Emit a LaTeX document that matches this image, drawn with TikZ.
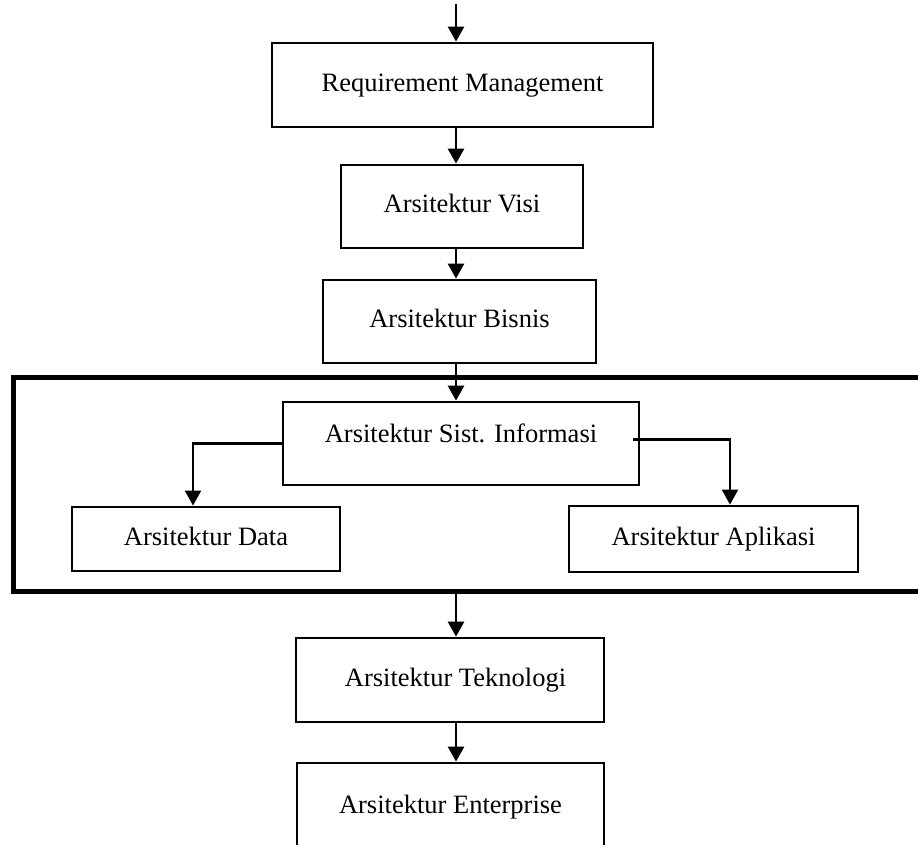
\documentclass[tikz,border=0pt]{standalone}
\usepackage{fontspec}
\setmainfont{Liberation Serif}
\usetikzlibrary{arrows.meta,calc}
\begin{document}
\begin{tikzpicture}[x=1pt,y=-1pt,
  box/.style={draw,line width=2.8pt,inner sep=0pt,text height=18pt,text depth=6pt,
    font=\fontsize{26.5}{30}\selectfont},
  arr/.style={line width=2.8pt,-{Triangle[width=16pt,length=15pt]}},
  side/.style={line width=2.2pt,-{Triangle[width=16pt,length=15pt]}},
  frame/.style={draw,line width=5pt,inner sep=0pt}]
\clip (0,0) rectangle (918,844);
\fill[white] (0,0) rectangle (918,844);
\coordinate (spine) at (456,0);
\coordinate (start) at (456,4);
\node[box,minimum width=381pt,minimum height=84pt] (rm) at (462.5,85) {Requirement Management};
\node[box,minimum width=242pt,minimum height=83pt] (visi) at (462,206.5) {Arsitektur Visi};
\node[box,minimum width=273pt,minimum height=83pt] (bisnis) at (459.5,321.5) {Arsitektur Bisnis};
\node[frame,minimum width=922pt,minimum height=214pt] (frm) at (474,484) {};
\node[box,minimum width=356pt,minimum height=83pt,text depth=20pt] (sist) at (461,443.5) {Arsitektur Sist. Informasi};
\node[box,minimum width=268pt,minimum height=64pt] (data) at (206,539) {Arsitektur Data};
\node[box,minimum width=289pt,minimum height=66pt] (app) at (713.5,539) {Arsitektur Aplikasi};
\node[box,minimum width=308pt,minimum height=84pt] (tek) at (450,680) {\hspace*{11pt}Arsitektur Teknologi};
\node[box,minimum width=307pt,minimum height=88pt] (ent) at (450.5,807) {Arsitektur Enterprise};
\draw[arr] (start) -- (rm.north -| spine);
\draw[arr] (rm.south -| spine) -- (visi.north -| spine);
\draw[arr] (visi.south -| spine) -- (bisnis.north -| spine);
\draw[arr] (bisnis.south -| spine) -- (sist.north -| spine);
\draw[side] (sist.west) -| ([xshift=-13pt]data.north);
\draw[side] ([xshift=-7pt,yshift=4pt]sist.east) -| ([xshift=16.5pt]app.north);
\draw[arr] (frm.south -| spine) -- (tek.north -| spine);
\draw[arr] (tek.south -| spine) -- (ent.north -| spine);
\end{tikzpicture}
\end{document}
